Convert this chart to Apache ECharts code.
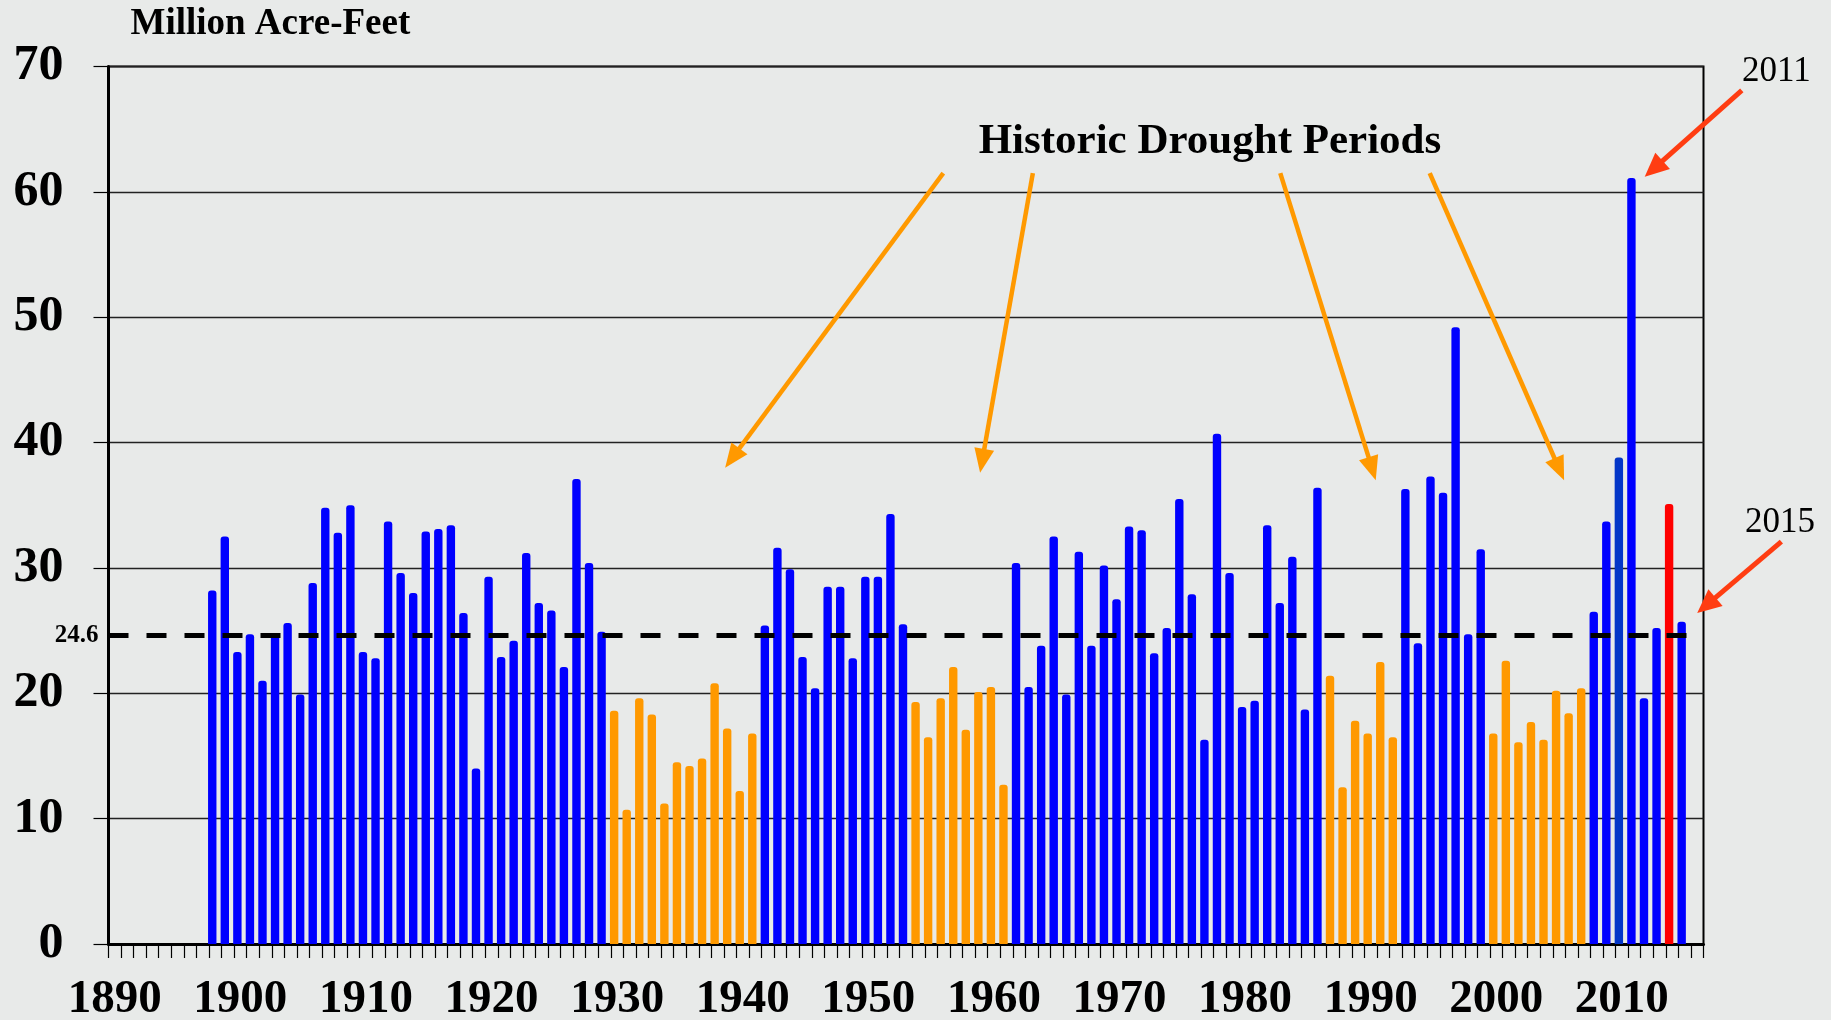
<!DOCTYPE html>
<html>
<head>
<meta charset="utf-8">
<script src="https://cdn.jsdelivr.net/npm/echarts@6/dist/echarts.min.js"></script>
<style>
  html, body { margin: 0; padding: 0; background: #e8eae9; }
  #chart { width: 1831px; height: 1020px; }
</style>
</head>
<body>
<div id="chart"></div>
<script>
// ---- data ----
const firstYear = 1890;
const lastYear = 2016;
const dataStartYear = 1898;
// Annual runoff, million acre-feet, 1898 .. 2015
const runoff = [
  28.2, 32.5, 23.3, 24.7, 21.0, 24.6, 25.6, 19.9, 28.8, 34.8, // 1898-1907
  32.8, 35.0, 23.3, 22.8, 33.7, 29.6, 28.0, 32.9, 33.1, 33.4, // 1908-1917
  26.4, 14.0, 29.3, 22.9, 24.2, 31.2, 27.2, 26.6, 22.1, 37.1, // 1918-1927
  30.4, 24.9, 18.6, 10.7, 19.6, 18.3, 11.2, 14.5, 14.2, 14.8, // 1928-1937
  20.8, 17.2, 12.2, 16.8, 25.4, 31.6, 29.9, 22.9, 20.4, 28.5, // 1938-1947
  28.5, 22.8, 29.3, 29.3, 34.3, 25.5, 19.3, 16.5, 19.6, 22.1, // 1948-1957
  17.1, 20.1, 20.5, 12.7, 30.4, 20.5, 23.8, 32.5, 19.9, 31.3, // 1958-1967
  23.8, 30.2, 27.5, 33.3, 33.0, 23.2, 25.2, 35.5, 27.9, 16.3, // 1968-1977
  40.7, 29.6, 18.9, 19.4, 33.4, 27.2, 30.9, 18.7, 36.4, 21.4, // 1978-1987
  12.5, 17.8, 16.8, 22.5, 16.5, 36.3, 24.0, 37.3, 36.0, 49.2, // 1988-1997
  24.7, 31.5, 16.8, 22.6, 16.1, 17.7, 16.3, 20.2, 18.4, 20.4, // 1998-2007
  26.5, 33.7, 38.8, 61.1, 19.6, 25.2, 35.1, 25.7              // 2008-2015
];
const average = 24.6;
const droughtPeriods = [[1930, 1941], [1954, 1961], [1987, 1992], [2000, 2007]];
const yTicks = [0, 10, 20, 30, 40, 50, 60, 70];

// ---- derived ----
const years = [];
for (let y = firstYear; y <= lastYear; y++) years.push(String(y));

const COLORS = { wet: '#0000ff', drought: '#ff9900', y2010: '#0336c8', y2014: '#ff0000' };
function colorFor(year) {
  if (year === 2014) return COLORS.y2014;
  if (year === 2010) return COLORS.y2010;
  for (const [a, b] of droughtPeriods) if (year >= a && year <= b) return COLORS.drought;
  return COLORS.wet;
}
const barData = years.map(ys => {
  const y = +ys;
  const i = y - dataStartYear;
  if (i < 0 || i >= runoff.length) return '-';
  return { value: runoff[i], itemStyle: { color: colorFor(y) } };
});

const SERIF = '"Liberation Serif", "Times New Roman", serif';

const chart = echarts.init(document.getElementById('chart'), null, { renderer: 'canvas' });

const option = {
  backgroundColor: '#e8eae9',
  animation: false,
  grid: {
    left: 108.5, right: 127.5, top: 66.5, bottom: 76,
    show: true, borderColor: '#000', borderWidth: 2, backgroundColor: 'transparent',
    containLabel: false,
    outerBoundsMode: 'none'
  },
  xAxis: {
    type: 'category',
    data: years,
    boundaryGap: true,
    axisLine: { lineStyle: { color: '#000', width: 3 } },
    axisTick: { show: true, interval: 0, length: 14, lineStyle: { color: '#000', width: 1.2 } },
    axisLabel: {
      interval: 9, margin: 32,
      fontFamily: SERIF, fontSize: 47, fontWeight: 'bold', color: '#000'
    },
    splitLine: { show: false }
  },
  yAxis: {
    type: 'value',
    min: yTicks[0], max: yTicks[yTicks.length - 1], interval: 10,
    name: 'Million Acre-Feet',
    nameLocation: 'end',
    nameGap: 42,
    nameTextStyle: {
      fontFamily: SERIF, fontSize: 37, fontWeight: 'bold', color: '#000',
      align: 'left', verticalAlign: 'middle', padding: [0, 0, 0, 22]
    },
    axisLine: { show: true, lineStyle: { color: '#000', width: 3 } },
    axisTick: { show: true, length: 15, lineStyle: { color: '#000', width: 1.2 } },
    axisLabel: {
      margin: 45,
      fontFamily: SERIF, fontSize: 50, fontWeight: 'bold', color: '#000'
    },
    splitLine: { show: true, lineStyle: { color: '#222', width: 1.3 } }
  },
  series: [
    {
      type: 'bar',
      data: barData,
      barWidth: 8.4,
      barGap: '0%',
      itemStyle: { borderRadius: [3, 3, 0, 0] },
      markLine: {
        silent: true,
        symbol: 'none',
        lineStyle: { color: '#000', width: 5, type: [20, 18] },
        label: {
          show: true, position: 'start', distance: 10,
          formatter: '{c}',
          fontFamily: SERIF, fontSize: 25, fontWeight: 'bold', color: '#000'
        },
        data: [{ yAxis: average }]
      },
      z: 3
    },
    {
      // invisible companion series so bars sit left of category centre (as in the original)
      type: 'bar',
      data: years.map(() => '-'),
      barWidth: 6,
      barGap: '0%',
      silent: true
    }
  ]
};
chart.setOption(option);

// ---- annotations (positions given in data units: [year, value]) ----
const droughtArrows = [
  [[1955.97, 61.5], [1938.6, 38.0]],
  [[1963.1, 61.5], [1958.9, 37.6]],
  [[1982.8, 61.5], [1990.4, 37.0]],
  [[1994.7, 61.5], [2005.4, 37.0]]
];
const callouts = [
  { text: '2011', at: [2022.3, 69.6], arrow: [[2019.55, 68.1], [2011.82, 61.2]] },
  { text: '2015', at: [2022.6, 33.6], arrow: [[2022.7, 32.1], [2016.0, 26.4]] }
];
const droughtLabel = { text: 'Historic Drought Periods', at: [1977.2, 63.95] };

function toPx(pt) {
  const a = chart.convertToPixel({ gridIndex: 0 }, [0, yTicks[0]]);
  const b = chart.convertToPixel({ gridIndex: 0 }, [years.length - 1, yTicks[yTicks.length - 1]]);
  const fx = (pt[0] - firstYear) / (years.length - 1);
  const fy = (pt[1] - yTicks[0]) / (yTicks[yTicks.length - 1] - yTicks[0]);
  return [a[0] + fx * (b[0] - a[0]), a[1] + fy * (b[1] - a[1])];
}
function arrow(from, to, color, width, headLen, headHalf) {
  const p = toPx(from), q = toPx(to);
  const dx = q[0] - p[0], dy = q[1] - p[1];
  const L = Math.hypot(dx, dy);
  const ux = dx / L, uy = dy / L;
  const bx = q[0] - ux * headLen, by = q[1] - uy * headLen;
  const nx = -uy, ny = ux;
  return [
    { type: 'line', silent: true, z: 10,
      shape: { x1: p[0], y1: p[1], x2: bx + ux * 2, y2: by + uy * 2 },
      style: { stroke: color, lineWidth: width } },
    { type: 'polygon', silent: true, z: 10,
      shape: { points: [[q[0], q[1]], [bx + nx * headHalf, by + ny * headHalf], [bx - nx * headHalf, by - ny * headHalf]] },
      style: { fill: color } }
  ];
}
const graphics = [];
droughtArrows.forEach(a => graphics.push(...arrow(a[0], a[1], '#ff9900', 4.5, 24, 10)));
callouts.forEach(c => {
  graphics.push(...arrow(c.arrow[0], c.arrow[1], '#ff3d12', 5, 24, 11));
  const t = toPx(c.at);
  graphics.push({ type: 'text', silent: true, z: 10, x: t[0], y: t[1],
    style: { text: c.text, fontFamily: SERIF, fontSize: 35, fill: '#000', align: 'center', verticalAlign: 'middle' } });
});
{
  const t = toPx(droughtLabel.at);
  graphics.push({ type: 'text', silent: true, z: 10, x: t[0], y: t[1],
    style: { text: droughtLabel.text, fontFamily: SERIF, fontSize: 43, fontWeight: 'bold', fill: '#000', align: 'center', verticalAlign: 'middle' } });
}
chart.setOption({ graphic: { elements: graphics } });
</script>
</body>
</html>
